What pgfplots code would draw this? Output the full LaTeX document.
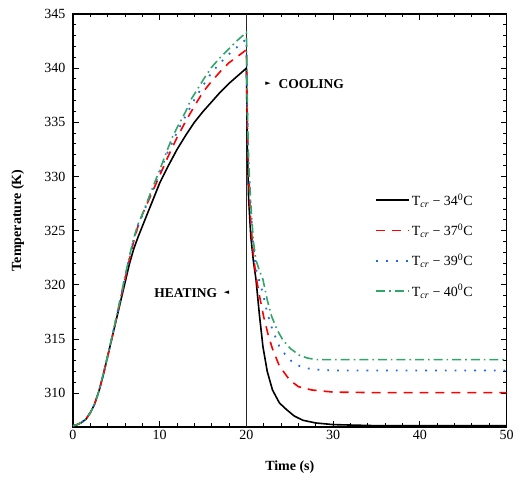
\documentclass[border=0pt]{standalone}
\usepackage{pgfplots}
\pgfplotsset{compat=1.18}
\usepackage{fontspec}
\setmainfont{Liberation Serif}
\newfontfamily\symfont{DejaVu Sans}

\definecolor{cblue}{RGB}{35,105,230}
\definecolor{cgreen}{RGB}{50,165,105}

\begin{document}
\begin{tikzpicture}
\begin{axis}[
    scale only axis,
    width=434pt, height=413pt,
    xmin=0, xmax=50, ymin=306.9, ymax=345,
    xtick={0,10,...,50}, ytick={310,315,...,345},
    minor x tick num=4, minor y tick num=4,
    tick align=inside,
    major tick length=6pt, minor tick length=3.5pt,
    axis line style={line width=1.5pt},
    every tick/.style={black, line width=1pt},
    /pgf/number format/assume math mode=true,
    ticklabel style={font=\fontsize{14}{16}\selectfont},
    yticklabel style={xshift=-4pt},
    xlabel={\textbf{Time (s)}},
    ylabel={\textbf{Temperature (K)}},
    label style={font=\fontsize{14}{16}\selectfont},
    ylabel style={at={(axis description cs:-0.127,0.5)}, anchor=center},
    xlabel style={at={(axis description cs:0.5,-0.099)}, anchor=center},
    legend image code/.code={\draw[#1] (0cm,0cm) -- (1.15cm,0cm);},
    legend style={draw=none, fill=none, at={(rel axis cs:0.69,0.575)}, anchor=north west,
        font=\fontsize{14}{16}\selectfont, row sep=13pt, legend cell align=left},
]

% vertical line at t = 20 s
\addplot[forget plot, black!85, line width=1.6pt] coordinates {(20,306.9) (20,345)};

% Tcr = 34 C
\addplot[black, line width=1.6pt] table {
t T
0 307.0
0.5 307.1
1.0 307.3
1.5 307.6
2.0 308.2
2.5 309.0
3.0 310.2
3.5 311.7
4.0 313.4
4.5 315.1
5.0 316.8
5.5 318.5
6.0 320.2
6.5 321.9
7.0 323.3
7.5 324.4
8.0 325.4
9.0 327.4
10.0 329.4
11.0 331.0
12.0 332.5
13.0 333.8
14.0 335.0
15.0 336.0
16.0 336.9
17.0 337.8
18.0 338.6
19.0 339.3
20.0 340.0
20.1 333.0
20.25 328.0
20.5 324.5
20.8 322.2
21.1 320.5
21.5 317.2
21.9 314.3
22.4 312.0
23.0 310.3
23.8 309.1
24.6 308.5
25.5 307.9
26.5 307.5
28.0 307.25
30.0 307.1
35.0 307.0
50.0 307.0
};

% Tcr = 37 C
\addplot[red, line width=1.6pt, dash pattern=on 9pt off 7pt] table {
t T
0 307.0
0.5 307.1
1.0 307.3
1.5 307.6
2.0 308.2
2.5 309.0
3.0 310.2
3.5 311.7
4.0 313.4
4.5 315.1
5.0 316.9
5.5 318.7
6.0 320.5
6.5 322.3
7.0 324.0
7.5 325.4
8.0 326.5
9.0 328.3
10.0 330.1
11.0 331.9
12.0 333.6
13.0 335.1
14.0 336.5
15.0 337.8
16.0 338.8
17.0 339.7
18.0 340.5
19.0 341.1
20.0 341.7
20.1 335.0
20.25 330.0
20.5 325.8
20.8 322.8
21.1 320.8
21.5 319.0
22.0 317.0
22.5 315.4
23.0 314.1
23.8 312.5
25.0 311.2
26.0 310.6
27.5 310.3
30.0 310.1
35.0 310.05
50.0 310.05
};

% Tcr = 39 C
\addplot[cblue, line width=1.8pt, dash pattern=on 1.8pt off 8pt] table {
t T
0 307.0
0.5 307.1
1.0 307.3
1.5 307.6
2.0 308.2
2.5 309.0
3.0 310.2
3.5 311.7
4.0 313.4
4.5 315.2
5.0 317.0
5.5 318.8
6.0 320.7
6.5 322.5
7.0 324.2
7.5 325.5
8.0 326.4
9.0 328.4
10.0 330.4
11.0 332.4
12.0 334.1
13.0 335.6
14.0 337.1
15.0 338.4
16.0 339.6
17.0 340.5
18.0 341.3
19.0 342.0
20.0 342.7
20.1 336.0
20.25 331.0
20.5 327.0
20.8 323.5
21.1 321.5
21.5 320.3
21.9 319.2
22.4 317.4
23.0 315.85
23.8 314.3
24.8 313.2
25.8 312.6
26.9 312.3
28.5 312.15
30.3 312.1
50.0 312.1
};

% Tcr = 40 C
\addplot[cgreen, line width=1.6pt, dash pattern=on 9pt off 4pt on 1.6pt off 4pt] table {
t T
0 307.0
0.5 307.1
1.0 307.3
1.5 307.6
2.0 308.2
2.5 309.0
3.0 310.2
3.5 311.8
4.0 313.5
4.5 315.2
5.0 317.0
5.5 318.9
6.0 320.8
6.5 322.6
7.0 324.3
7.5 325.6
8.0 326.5
9.0 328.6
10.0 330.6
11.0 332.7
11.5 333.7
12.0 334.5
13.0 336.0
13.6 337.1
14.0 337.6
15.0 338.9
15.75 339.8
16.0 340.1
17.0 341.0
18.0 341.8
19.0 342.6
20.0 343.3
20.1 336.5
20.25 331.5
20.5 327.5
20.8 324.0
21.1 322.3
21.5 321.3
21.9 320.5
22.4 318.6
22.9 317.1
23.5 315.9
24.2 314.9
25.1 314.1
26.1 313.5
27.0 313.25
28.0 313.1
50.0 313.1
};

\legend{T\textsubscript{\itshape cr} − 34\textsuperscript{0}C,
        T\textsubscript{\itshape cr} − 37\textsuperscript{0}C,
        T\textsubscript{\itshape cr} − 39\textsuperscript{0}C,
        T\textsubscript{\itshape cr} − 40\textsuperscript{0}C}

\node[font=\fontsize{13.5}{15}\selectfont\bfseries] at (axis cs:13.0,319.2) {HEATING};
\node[font=\symfont\fontsize{7}{8}\selectfont] at (axis cs:17.7,319.3) {◄};
\node[font=\symfont\fontsize{7}{8}\selectfont] at (axis cs:22.5,338.6) {►};
\node[font=\fontsize{13.5}{15}\selectfont\bfseries, anchor=west] at (axis cs:23.3,338.5) {COOLING};
\end{axis}
% fix the page to the reference's margins round the axis box
\path (current axis.south west) ++(-73pt,-58pt);
\path (current axis.north east) ++(10pt,14pt);
\end{tikzpicture}
\end{document}
